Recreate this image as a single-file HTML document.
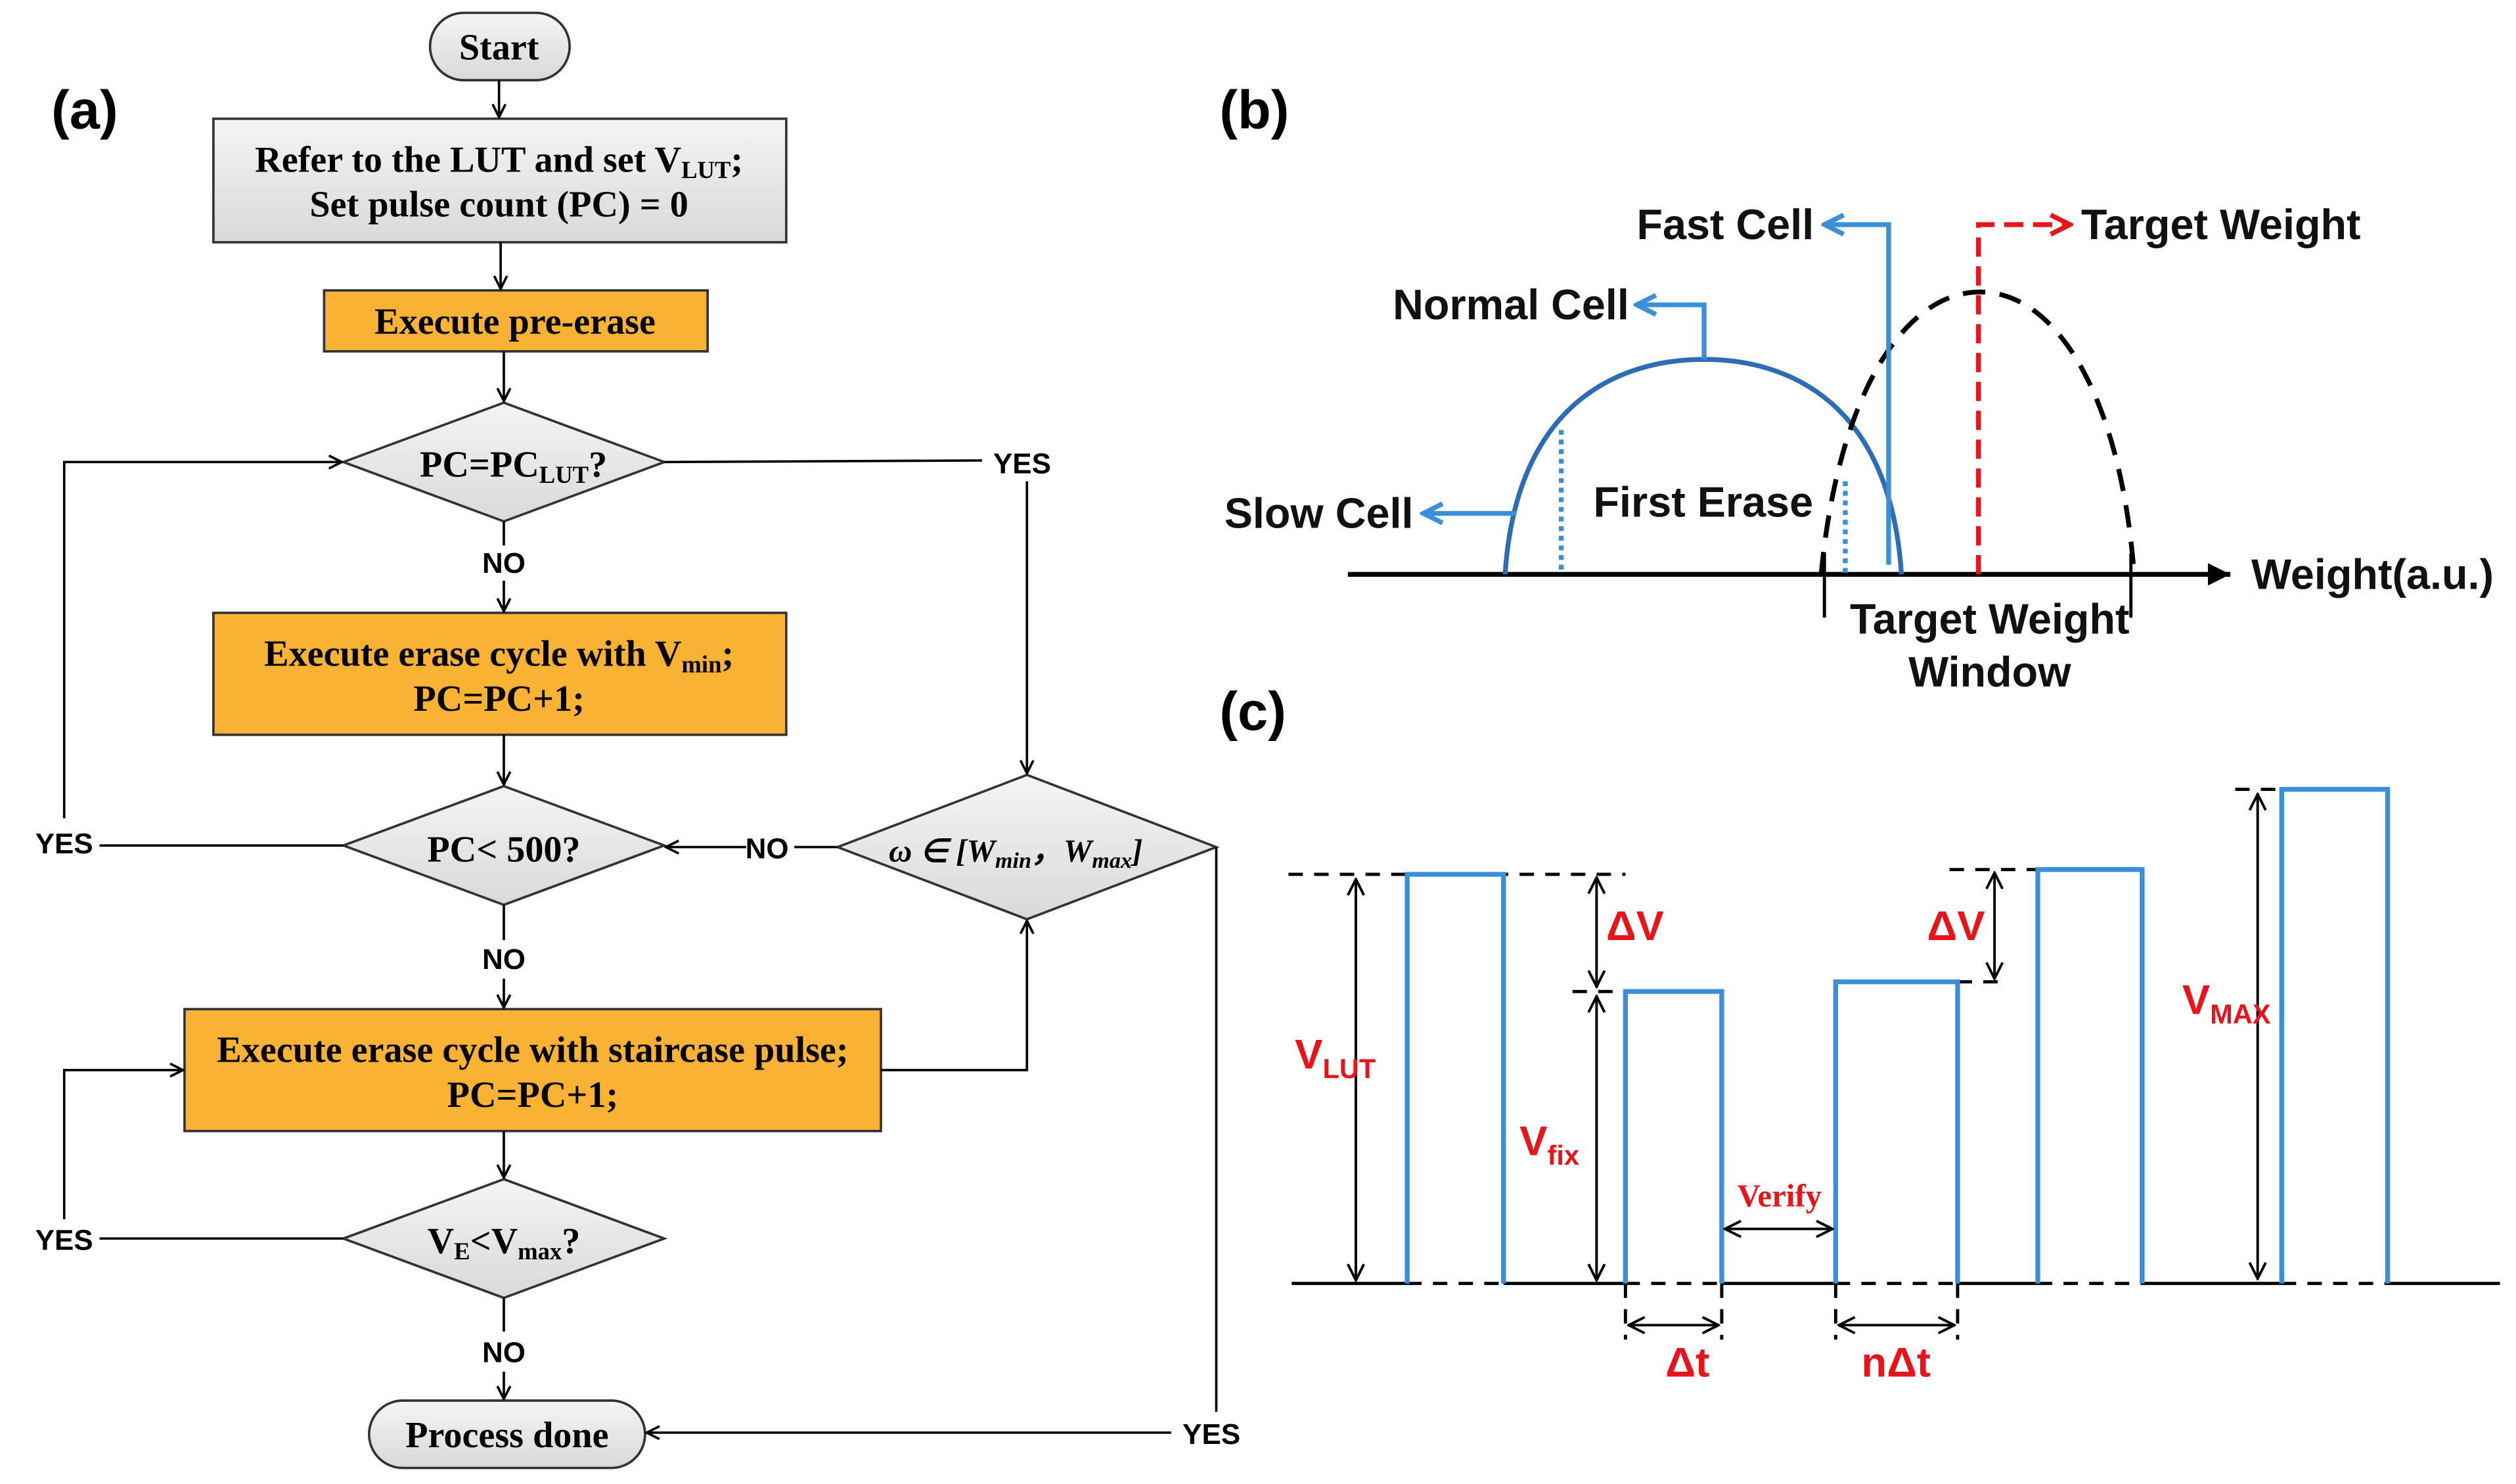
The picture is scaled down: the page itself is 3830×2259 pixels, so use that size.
<!DOCTYPE html>
<html><head><meta charset="utf-8"><style>
html,body{margin:0;padding:0;background:#fff}
svg{display:block}
.s{font-family:"Liberation Serif",serif;font-weight:bold;font-size:23px}
.a{font-family:"Liberation Sans",sans-serif;font-weight:bold}
</style></head><body>
<svg width="3830" height="2259" viewBox="0 0 1568 925" preserveAspectRatio="none" xmlns="http://www.w3.org/2000/svg">
<defs>
<marker id="ar" markerWidth="10" markerHeight="10" refX="9" refY="5" orient="auto" markerUnits="userSpaceOnUse"><path d="M1,1 L9,5 L1,9" fill="none" stroke="#000" stroke-width="1.5"/></marker>
<marker id="arb" markerWidth="16" markerHeight="16" refX="14" refY="8" orient="auto" markerUnits="userSpaceOnUse"><path d="M2,2 L14,8 L2,14" fill="none" stroke="#3b8fd9" stroke-width="3"/></marker>
<marker id="arr" markerWidth="16" markerHeight="16" refX="14" refY="8" orient="auto" markerUnits="userSpaceOnUse"><path d="M2,2 L14,8 L2,14" fill="none" stroke="#e8141b" stroke-width="3"/></marker>
<marker id="ak" markerWidth="16" markerHeight="16" refX="15" refY="8" orient="auto" markerUnits="userSpaceOnUse"><path d="M1,1 L15,8 L1,15 Z" fill="#000"/></marker>
<marker id="dk" markerWidth="12" markerHeight="12" refX="11" refY="6" orient="auto-start-reverse" markerUnits="userSpaceOnUse"><path d="M1,1 L11,6 L1,11" fill="none" stroke="#000" stroke-width="1.6"/></marker>
<linearGradient id="g" x1="0" y1="0" x2="0" y2="1"><stop offset="0" stop-color="#f4f4f4"/><stop offset="1" stop-color="#d9d9d9"/></linearGradient>
</defs>
<g class="a" font-size="34"><text x="32" y="80">(a)</text><text x="760" y="80">(b)</text><text x="760" y="455">(c)</text></g>

<g stroke="#333" stroke-width="1.5">
<rect x="268" y="8" width="87" height="42" rx="21" fill="url(#g)"/>
<rect x="133" y="74" width="357" height="77" fill="url(#g)"/>
<rect x="202" y="181" width="239" height="38" fill="#f9b233"/>
<polygon points="214,288 314,251 414,288 314,325" fill="url(#g)"/>
<rect x="133" y="382" width="357" height="76" fill="#f9b233"/>
<polygon points="214,527 314,490 414,527 314,564" fill="url(#g)"/>
<polygon points="522,528 640,483 758,528 640,573" fill="url(#g)"/>
<rect x="115" y="629" width="434" height="76" fill="#f9b233"/>
<polygon points="214,772 314,735 414,772 314,809" fill="url(#g)"/>
<rect x="230" y="873" width="172" height="42" rx="21" fill="url(#g)"/>
</g>
<g stroke="#000" stroke-width="1.5" fill="none" marker-end="url(#ar)">
<line x1="311" y1="50" x2="311" y2="73"/>
<line x1="312" y1="151" x2="312" y2="180"/>
<line x1="314" y1="219" x2="314" y2="250"/>
<line x1="314" y1="362" x2="314" y2="381"/>
<line x1="314" y1="458" x2="314" y2="489"/>
<line x1="314" y1="610" x2="314" y2="628"/>
<line x1="314" y1="705" x2="314" y2="734"/>
<line x1="314" y1="855" x2="314" y2="872"/>
<polyline points="40,510 40,288 213,288"/>
<polyline points="40,760 40,667 114,667"/>
<line x1="640" y1="300" x2="640" y2="482"/>
<line x1="465" y1="528" x2="415" y2="528"/>
<polyline points="549,667 640,667 640,574"/>
<line x1="730" y1="893" x2="403" y2="893"/>
</g>
<g stroke="#000" stroke-width="1.5" fill="none">
<line x1="314" y1="325" x2="314" y2="340"/><line x1="314" y1="564" x2="314" y2="586"/><line x1="314" y1="809" x2="314" y2="830"/>
<line x1="414" y1="288" x2="612" y2="287"/>
<line x1="62" y1="527" x2="214" y2="527"/><line x1="62" y1="772" x2="214" y2="772"/>
<line x1="495" y1="528" x2="522" y2="528"/>
<line x1="758" y1="528" x2="758" y2="880"/>
</g>
<g class="s" text-anchor="middle">
<text x="311" y="37">Start</text>
<text x="311" y="107">Refer to the LUT and set V<tspan font-size="15" dy="4">LUT</tspan><tspan dy="-4">;</tspan></text>
<text x="311" y="135">Set pulse count (PC) = 0</text>
<text x="321" y="208">Execute pre-erase</text>
<text x="320" y="297">PC=PC<tspan font-size="15" dy="4">LUT</tspan><tspan dy="-4">?</tspan></text>
<text x="311" y="415">Execute erase cycle with V<tspan font-size="15" dy="4">min</tspan><tspan dy="-4">;</tspan></text>
<text x="311" y="443">PC=PC+1;</text>
<text x="314" y="537">PC&lt; 500?</text>
<text x="633" y="537" font-style="italic" font-size="20">ω ∈ [W<tspan font-size="14" dy="4">min</tspan><tspan dy="-4">，W</tspan><tspan font-size="14" dy="4">max</tspan><tspan dy="-4">]</tspan></text>
<text x="332" y="662">Execute erase cycle with staircase pulse;</text>
<text x="332" y="690">PC=PC+1;</text>
<text x="314" y="781">V<tspan font-size="15" dy="4">E</tspan><tspan dy="-4">&lt;V</tspan><tspan font-size="15" dy="4">max</tspan><tspan dy="-4">?</tspan></text>
<text x="316" y="902">Process done</text>
</g>
<g class="a" font-size="18" text-anchor="middle">
<text x="314" y="357">NO</text><text x="314" y="604">NO</text><text x="314" y="849">NO</text>
<text x="637" y="295">YES</text><text x="40" y="532">YES</text><text x="40" y="779">YES</text>
<text x="478" y="535">NO</text><text x="755" y="900">YES</text>
</g>

<line x1="840" y1="358" x2="1390" y2="358" stroke="#000" stroke-width="3" marker-end="url(#ak)"/>
<path d="M938,358 C945,250 1010,224 1062,224 C1114,224 1178,250 1185,358" fill="none" stroke="#2e6db4" stroke-width="3"/>
<path d="M1135,358 C1145,250 1185,182 1234,182 C1283,182 1322,250 1330,358" fill="none" stroke="#000" stroke-width="3" stroke-dasharray="14,9"/>
<g stroke="#3b8fd9" stroke-width="3" fill="none">
<polyline points="1062,224 1062,190 1020,190" marker-end="url(#arb)"/>
<polyline points="1177,352 1177,140 1137,140" marker-end="url(#arb)"/>
<line x1="945" y1="320" x2="887" y2="320" marker-end="url(#arb)"/>
<line x1="973" y1="268" x2="973" y2="358" stroke-dasharray="3,3"/>
<line x1="1150" y1="300" x2="1150" y2="358" stroke-dasharray="3,3"/>
</g>
<polyline points="1233,358 1233,140 1290,140" fill="none" stroke="#e8141b" stroke-width="3" stroke-dasharray="12,6" marker-end="url(#arr)"/>
<g stroke="#000" stroke-width="2"><line x1="1137" y1="345" x2="1137" y2="385"/><line x1="1328" y1="345" x2="1328" y2="385"/></g>
<g class="a" font-size="26.5" fill="#111">
<text x="1020" y="149">Fast Cell</text>
<text x="868" y="199">Normal Cell</text>
<text x="763" y="329">Slow Cell</text>
<text x="993" y="322">First Erase</text>
<text x="1297" y="149">Target Weight</text>
<text x="1403" y="367">Weight(a.u.)</text>
<text x="1240" y="395" text-anchor="middle">Target Weight</text>
<text x="1240" y="428" text-anchor="middle">Window</text>
</g>

<g stroke="#000" stroke-width="2" fill="none">
<polyline points="805,800 877,800"/><polyline points="937,800 1013,800"/><polyline points="1073,800 1144,800"/><polyline points="1220,800 1270,800"/><polyline points="1335,800 1422,800"/><polyline points="1488,800 1558,800"/>
<g stroke-dasharray="9,7"><line x1="877" y1="800" x2="937" y2="800"/><line x1="1013" y1="800" x2="1073" y2="800"/><line x1="1144" y1="800" x2="1220" y2="800"/><line x1="1270" y1="800" x2="1335" y2="800"/><line x1="1422" y1="800" x2="1488" y2="800"/>
<line x1="803" y1="545" x2="1013" y2="545"/><line x1="980" y1="618" x2="1013" y2="618"/><line x1="1220" y1="612" x2="1252" y2="612"/><line x1="1215" y1="542" x2="1270" y2="542"/><line x1="1393" y1="492" x2="1422" y2="492"/>
<line x1="1013" y1="800" x2="1013" y2="835"/><line x1="1073" y1="800" x2="1073" y2="835"/><line x1="1144" y1="800" x2="1144" y2="835"/><line x1="1220" y1="800" x2="1220" y2="835"/></g>
</g>
<g stroke="#3b8fd9" stroke-width="3" fill="none">
<polyline points="877,800 877,545 937,545 937,800"/>
<polyline points="1013,800 1013,618 1073,618 1073,800"/>
<polyline points="1144,800 1144,612 1220,612 1220,800"/>
<polyline points="1270,800 1270,542 1335,542 1335,800"/>
<polyline points="1422,800 1422,492 1488,492 1488,800"/>
</g>
<g stroke="#000" stroke-width="1.6" marker-start="url(#dk)" marker-end="url(#dk)">
<line x1="845" y1="548" x2="845" y2="798"/>
<line x1="995" y1="547" x2="995" y2="615"/>
<line x1="995" y1="621" x2="995" y2="798"/>
<line x1="1243" y1="544" x2="1243" y2="610"/>
<line x1="1407" y1="495" x2="1407" y2="797"/>
<line x1="1075" y1="766" x2="1142" y2="766"/>
<line x1="1015" y1="826" x2="1071" y2="826"/>
<line x1="1146" y1="826" x2="1218" y2="826"/>
</g>
<g class="a" fill="#e8141b" font-size="26">
<text x="807" y="666">V<tspan font-size="17" dy="6">LUT</tspan></text>
<text x="947" y="720">V<tspan font-size="17" dy="6">fix</tspan></text>
<text x="1360" y="632">V<tspan font-size="17" dy="6">MAX</tspan></text>
<text x="1001" y="586">ΔV</text>
<text x="1201" y="586">ΔV</text>
<text x="1038" y="858">Δt</text>
<text x="1160" y="858">nΔt</text>
</g>
<text x="1109" y="752" text-anchor="middle" font-family="Liberation Serif,serif" font-weight="bold" font-size="20" fill="#e8141b">Verify</text>
</svg>
</body></html>
